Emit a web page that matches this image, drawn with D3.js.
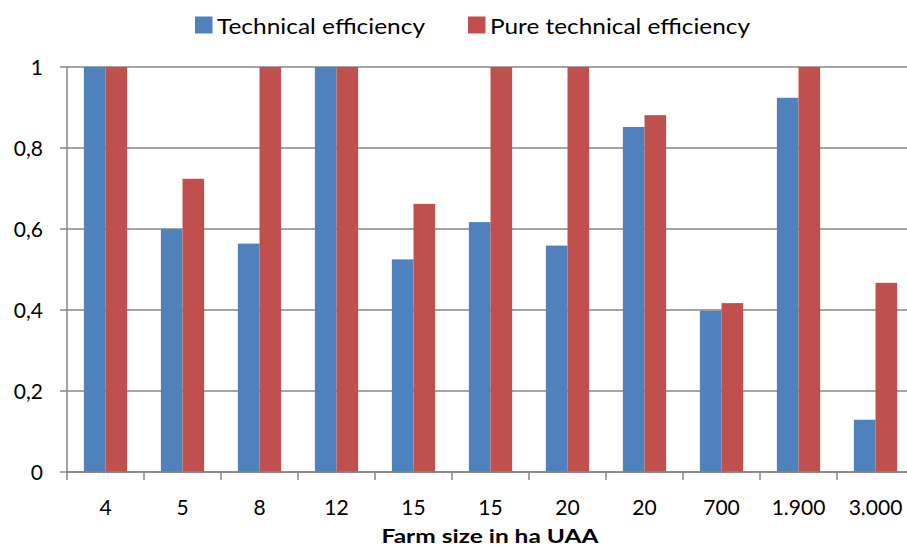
<!DOCTYPE html>
<html>
<head>
<meta charset="utf-8">
<script src="https://cdn.jsdelivr.net/npm/d3@7"></script>
<style>
  html, body { margin: 0; padding: 0; background: #fff; }
  svg { display: block; font-family: Lato, "Open Sans", sans-serif; }
</style>
</head>
<body>
<svg id="chart" width="907" height="547"></svg>
<script>
const categories = ["4", "5", "8", "12", "15", "15", "20", "20", "700", "1.900", "3.000"];
const technicalEfficiency = [1, 0.6, 0.564, 1, 0.525, 0.617, 0.559, 0.852, 0.398, 0.924, 0.129];
const pureTechnicalEfficiency = [1, 0.724, 1, 1, 0.662, 1, 1, 0.881, 0.417, 1, 0.467];
const seriesNames = ["Technical efficiency", "Pure technical efficiency"];
const seriesColors = ["#4F81BD", "#C0504D"];
const yTicks = [0, 0.2, 0.4, 0.6, 0.8, 1];
const yTickLabels = ["0", "0,2", "0,4", "0,6", "0,8", "1"];
const xAxisTitle = "Farm size  in ha UAA";

const svg = d3.select("#chart");
const plotLeft = 67, plotRight = 914, plotTop = 67, plotBottom = 472;

const x = d3.scaleBand().domain(d3.range(categories.length)).range([plotLeft, plotRight]).paddingInner(0).paddingOuter(0);
const x1 = d3.scaleBand().domain([0, 1]).range([0, x.bandwidth()]).paddingOuter(0.78).paddingInner(0);
const y = d3.scaleLinear().domain([0, 1]).range([plotBottom, plotTop]);

const gridColor = "#868686";

// gridlines
svg.append("g").selectAll("line").data(yTicks).join("line")
  .attr("x1", plotLeft - 7).attr("x2", 907)
  .attr("y1", d => y(d)).attr("y2", d => y(d))
  .attr("stroke", gridColor).attr("stroke-width", 1.5);

// y labels
svg.append("g").selectAll("text").data(yTicks).join("text")
  .attr("x", 43).attr("y", d => y(d) + 7.5)
  .attr("text-anchor", "end")
  .attr("font-size", 21).attr("fill", "#000")
  .text((d, i) => yTickLabels[i]);

// bars
const data = categories.map((c, i) => [technicalEfficiency[i], pureTechnicalEfficiency[i]]);
const groups = svg.append("g").selectAll("g").data(data).join("g")
  .attr("transform", (d, i) => `translate(${x(i)},0)`);
groups.selectAll("rect").data(d => d).join("rect")
  .attr("x", (d, j) => x1(j))
  .attr("width", x1.bandwidth())
  .attr("y", d => y(d))
  .attr("height", d => y(0) - y(d))
  .attr("fill", (d, j) => seriesColors[j]);

// y axis line
svg.append("line").attr("x1", plotLeft).attr("x2", plotLeft).attr("y1", plotTop).attr("y2", plotBottom)
  .attr("stroke", gridColor).attr("stroke-width", 1.5);

// x axis line and ticks
svg.append("line").attr("x1", plotLeft).attr("x2", 907).attr("y1", plotBottom).attr("y2", plotBottom)
  .attr("stroke", gridColor).attr("stroke-width", 1.5);
svg.append("g").selectAll("line").data(d3.range(categories.length)).join("line")
  .attr("x1", i => x(i)).attr("x2", i => x(i))
  .attr("y1", plotBottom).attr("y2", plotBottom + 8)
  .attr("stroke", gridColor).attr("stroke-width", 1.5);

// x labels
svg.append("g").selectAll("text").data(categories).join("text")
  .attr("x", (d, i) => x(i) + x.bandwidth() / 2)
  .attr("y", 515)
  .attr("text-anchor", "middle")
  .attr("font-size", 21).attr("fill", "#000")
  .text(d => d);

// x axis title
svg.append("text")
  .attr("x", 490).attr("y", 543)
  .attr("text-anchor", "middle")
  .attr("font-size", 19).attr("font-weight", "bold").attr("fill", "#000")
  .attr("textLength", 217).attr("lengthAdjust", "spacingAndGlyphs")
  .text(xAxisTitle);

// legend
const legendItems = [
  { name: seriesNames[0], color: seriesColors[0], sx: 195, tx: 217, tw: 208 },
  { name: seriesNames[1], color: seriesColors[1], sx: 468, tx: 490, tw: 260 }
];
const lg = svg.append("g");
legendItems.forEach(it => {
  lg.append("rect").attr("x", it.sx).attr("y", 16.5).attr("width", 17.5).attr("height", 17)
    .attr("fill", it.color);
  lg.append("text").attr("x", it.tx).attr("y", 33.5)
    .attr("font-size", 22).attr("fill", "#000")
    .attr("textLength", it.tw).attr("lengthAdjust", "spacingAndGlyphs")
    .text(it.name);
});
</script>
</body>
</html>
